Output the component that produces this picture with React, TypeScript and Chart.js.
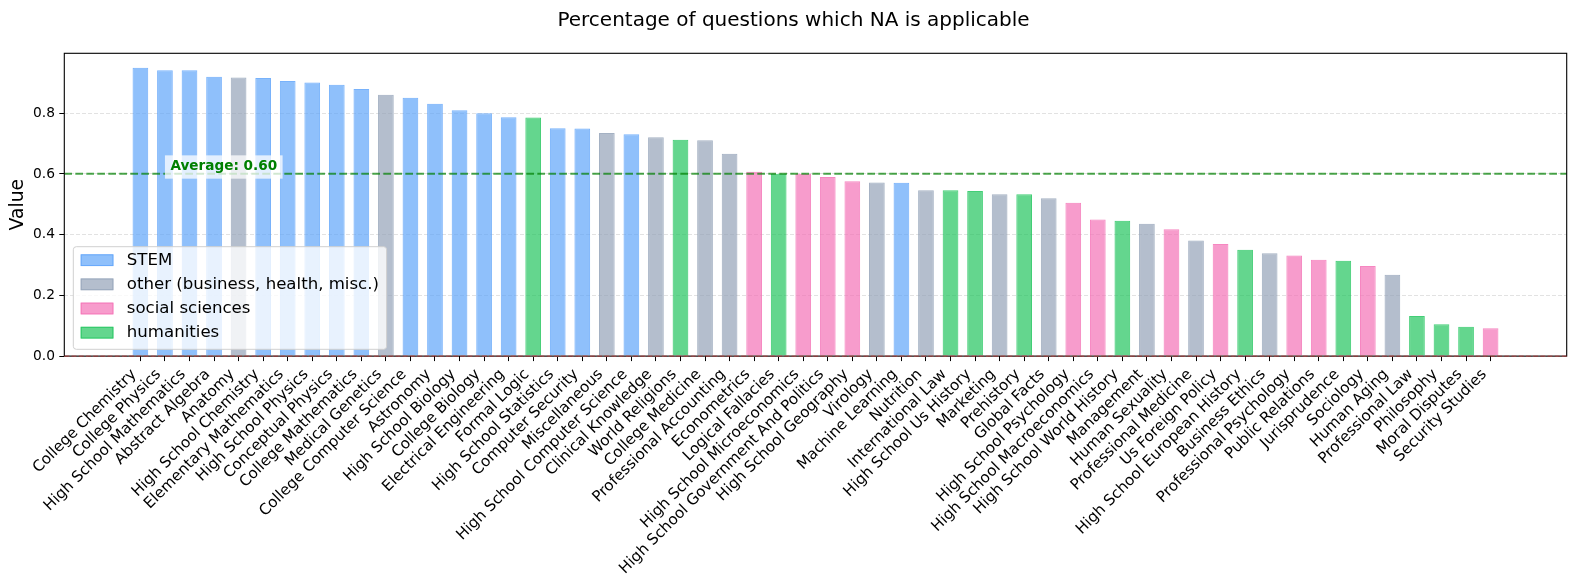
import React, { useEffect, useRef } from "react";
import { Chart, registerables } from "chart.js";

Chart.register(...registerables);

// subjects, already sorted by share of questions where NA applies
const categories = [
  "College Chemistry", "College Physics", "High School Mathematics", "Abstract Algebra", "Anatomy",
  "High School Chemistry", "Elementary Mathematics", "High School Physics", "Conceptual Physics",
  "College Mathematics", "Medical Genetics", "College Computer Science", "Astronomy",
  "High School Biology", "College Biology", "Electrical Engineering", "Formal Logic",
  "High School Statistics", "Computer Security", "Miscellaneous", "High School Computer Science",
  "Clinical Knowledge", "World Religions", "College Medicine", "Professional Accounting",
  "Econometrics", "Logical Fallacies", "High School Microeconomics",
  "High School Government And Politics", "High School Geography", "Virology", "Machine Learning",
  "Nutrition", "International Law", "High School Us History", "Marketing", "Prehistory",
  "Global Facts", "High School Psychology", "High School Macroeconomics", "High School World History",
  "Management", "Human Sexuality", "Professional Medicine", "Us Foreign Policy",
  "High School European History", "Business Ethics", "Professional Psychology", "Public Relations",
  "Jurisprudence", "Sociology", "Human Aging", "Professional Law", "Philosophy", "Moral Disputes",
  "Security Studies",
];

const values = [
  0.950, 0.942, 0.942, 0.920, 0.918, 0.916, 0.906, 0.901, 0.894, 0.880,
  0.861, 0.851, 0.831, 0.810, 0.800, 0.787, 0.786, 0.751, 0.750, 0.735,
  0.731, 0.721, 0.713, 0.711, 0.667, 0.607, 0.601, 0.601, 0.590, 0.576,
  0.572, 0.571, 0.546, 0.546, 0.544, 0.533, 0.533, 0.520, 0.505, 0.450,
  0.446, 0.436, 0.418, 0.381, 0.369, 0.350, 0.339, 0.331, 0.317, 0.314,
  0.297, 0.268, 0.132, 0.105, 0.097, 0.092,
];

const subjectGroup = [
  "stem", "stem", "stem", "stem", "other", "stem", "stem", "stem", "stem", "stem",
  "other", "stem", "stem", "stem", "stem", "stem", "humanities", "stem", "stem", "other",
  "stem", "other", "humanities", "other", "other", "social", "humanities", "social", "social", "social",
  "other", "stem", "other", "humanities", "humanities", "other", "humanities", "other", "social", "social",
  "humanities", "other", "social", "other", "social", "humanities", "other", "social", "social", "humanities",
  "social", "other", "humanities", "humanities", "humanities", "social",
];

const groupKeys = ["stem", "other", "social", "humanities"];
const groupLabels = ["STEM", "other (business, health, misc.)", "social sciences", "humanities"];
const groupColors = ["#60a5fa", "#94a3b8", "#f472b6", "#22c55e"];

const FONT = "'DejaVu Sans', sans-serif";

const rgba = (hex: string, a: number) => {
  const n = parseInt(hex.slice(1), 16);
  return `rgba(${(n >> 16) & 255}, ${(n >> 8) & 255}, ${n & 255}, ${a})`;
};

const average = values.reduce((s, v) => s + v, 0) / values.length;

// matplotlib-like extras: avg line + label, zero line, spines, legend box
const decorations = {
  id: "decorations",
  afterDatasetsDraw(chart: Chart) {
    const { ctx, chartArea: area } = chart;
    const x = chart.scales.x;
    const y = chart.scales.y;
    ctx.save();

    // average line
    const avgY = y.getPixelForValue(average);
    ctx.strokeStyle = "rgba(0, 128, 0, 0.7)";
    ctx.lineWidth = 2;
    ctx.setLineDash([7.7, 3.3]);
    ctx.beginPath();
    ctx.moveTo(area.left, avgY);
    ctx.lineTo(area.right, avgY);
    ctx.stroke();
    ctx.setLineDash([]);

    // average label
    const label = `Average: ${average.toFixed(2)}`;
    ctx.font = `bold 13.6px ${FONT}`;
    const tw = ctx.measureText(label).width;
    const boxLeft = x.getPixelForValue(1);
    const boxMid = y.getPixelForValue(average + 0.022);
    ctx.fillStyle = "rgba(255, 255, 255, 0.75)";
    ctx.fillRect(boxLeft, boxMid - 11.6, tw + 11, 23.3);
    ctx.fillStyle = "#008000";
    ctx.textBaseline = "middle";
    ctx.textAlign = "left";
    ctx.fillText(label, boxLeft + 5.5, boxMid);

    // spines
    ctx.strokeStyle = "#000";
    ctx.lineWidth = 1.1;
    ctx.strokeRect(area.left, area.top, area.right - area.left, area.bottom - area.top);

    // zero line
    const zeroY = y.getPixelForValue(0);
    ctx.strokeStyle = "rgba(220, 40, 40, 0.5)";
    ctx.lineWidth = 1.2;
    ctx.setLineDash([5, 2.2]);
    ctx.beginPath();
    ctx.moveTo(area.left, zeroY);
    ctx.lineTo(area.right, zeroY);
    ctx.stroke();
    ctx.setLineDash([]);

    // legend (lower left, inside the axes)
    ctx.font = `16.6px ${FONT}`;
    const textW = Math.max(...groupLabels.map((l) => ctx.measureText(l).width));
    const lx = area.left + 9;
    const lw = 7.4 + 32.7 + 13.4 + textW + 7.6;
    const lh = 102.6;
    const ly = area.bottom - 6.8 - lh;
    ctx.beginPath();
    ctx.roundRect(lx, ly, lw, lh, 3);
    ctx.fillStyle = "rgba(255, 255, 255, 0.8)";
    ctx.fill();
    ctx.strokeStyle = "#d0d0d0";
    ctx.lineWidth = 1;
    ctx.stroke();
    groupLabels.forEach((name, g) => {
      const cy = ly + 13.5 + g * 24.15;
      ctx.fillStyle = rgba(groupColors[g], 0.7);
      ctx.fillRect(lx + 7.4, cy - 5.85, 32.7, 11.7);
      ctx.strokeStyle = rgba(groupColors[g], 0.85);
      ctx.strokeRect(lx + 7.9, cy - 5.35, 31.7, 10.7);
      ctx.fillStyle = "#000";
      ctx.textBaseline = "middle";
      ctx.fillText(name, lx + 7.4 + 32.7 + 13.4, cy + 0.5);
    });

    ctx.restore();
  },
};

const App = () => {
  const canvasRef = useRef<HTMLCanvasElement>(null);
  const chartRef = useRef<Chart | null>(null);

  useEffect(() => {
    if (!canvasRef.current) return;
    if (chartRef.current) chartRef.current.destroy();

    const datasets = groupKeys.map((key, g) => ({
      label: groupLabels[g],
      data: categories
        .map((_, i) => ({ x: i, y: values[i] }))
        .filter((_, i) => subjectGroup[i] === key),
      backgroundColor: rgba(groupColors[g], 0.7),
      borderColor: rgba(groupColors[g], 0.85),
      borderWidth: 1,
      grouped: false,
      barPercentage: 0.64,
      categoryPercentage: 1,
    }));

    chartRef.current = new Chart(canvasRef.current, {
      type: "bar",
      data: { datasets },
      options: {
        responsive: true,
        maintainAspectRatio: false,
        animation: false,
        layout: { padding: { left: 20.3, right: 10.3, top: 0, bottom: 0 } },
        plugins: {
          legend: { display: false },
          tooltip: { enabled: false },
          title: {
            display: true,
            text: "Percentage of questions which NA is applicable",
            color: "#000",
            font: { family: FONT, size: 20, weight: "normal" },
            padding: { top: 8.6, bottom: 20.7 },
          },
        },
        scales: {
          x: {
            type: "linear",
            min: -3.1,
            max: categories.length - 1 + 3.1,
            offset: false,
            afterBuildTicks: (scale) => {
              scale.ticks = categories.map((_, i) => ({ value: i }));
            },
            afterFit: (scale) => {
              scale.height = 229.9;
            },
            grid: {
              offset: false,
              drawOnChartArea: false,
              tickLength: 5,
              tickColor: "#000",
              tickWidth: 1,
            },
            border: { display: false },
            ticks: {
              autoSkip: false,
              minRotation: 45,
              maxRotation: 45,
              padding: 4.6,
              labelOffset: -6.3,
              color: "#000",
              font: { family: FONT, size: 15.2 },
              callback: (value) => categories[value as number] ?? "",
            },
          },
          y: {
            min: 0,
            max: Math.max(...values) * 1.05,
            afterFit: (scale) => {
              scale.width = 44;
            },
            grid: {
              color: "#e2e2e2",
              lineWidth: 1,
              tickLength: 5,
              tickColor: "#000",
              tickWidth: 1,
            },
            border: { display: false, dash: [4, 2] },
            ticks: {
              stepSize: 0.2,
              includeBounds: false,
              padding: 4.3,
              color: "#000",
              font: { family: FONT, size: 13.8 },
              callback: (value) => Number(value).toFixed(1),
            },
            title: {
              display: true,
              text: "Value",
              color: "#000",
              font: { family: FONT, size: 18.8 },
              padding: { top: -13.2, bottom: 0 },
            },
          },
        },
      },
      plugins: [decorations],
    });

    return () => {
      if (chartRef.current) {
        chartRef.current.destroy();
        chartRef.current = null;
      }
    };
  }, []);

  return (
    <div style={{ position: "absolute", left: 0, top: 0, width: 1577, height: 586, background: "#fff" }}>
      <canvas ref={canvasRef} />
    </div>
  );
};

export default App;
